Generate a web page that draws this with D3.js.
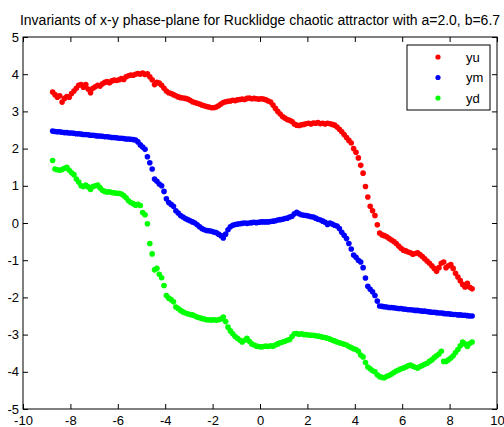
<!DOCTYPE html>
<html lang="en">
<head>
  <meta charset="utf-8">
  <title>Rucklidge invariants</title>
  <script src="https://d3js.org/d3.v7.min.js"></script>
  <style>
    body { margin: 0; background: #fff; }
    text { font-family: "Liberation Sans", Arial, sans-serif; fill: #000; }
    .axis path, .axis line { stroke: #000; }
  </style>
</head>
<body>
<script>
// shared x samples
const xs = [
  -8.75,-8.65,-8.55,-8.45,-8.35,-8.25,-8.15,-8.05,-7.95,-7.85,
  -7.75,-7.65,-7.55,-7.45,-7.35,-7.25,-7.15,-7.05,-6.95,-6.85,
  -6.75,-6.65,-6.55,-6.45,-6.35,-6.25,-6.15,-6.05,-5.95,-5.85,
  -5.75,-5.65,-5.55,-5.45,-5.35,-5.25,-5.15,-5.05,-4.95,-4.85,
  -4.75,-4.65,-4.55,-4.45,-4.35,-4.25,-4.15,-4.05,-3.95,-3.85,
  -3.75,-3.65,-3.55,-3.45,-3.35,-3.25,-3.15,-3.05,-2.95,-2.85,
  -2.75,-2.65,-2.55,-2.45,-2.35,-2.25,-2.15,-2.05,-1.95,-1.85,
  -1.75,-1.65,-1.55,-1.45,-1.35,-1.25,-1.15,-1.05,-0.95,-0.85,
  -0.75,-0.65,-0.55,-0.45,-0.35,-0.25,-0.15,-0.05,0.05,0.15,
  0.25,0.35,0.45,0.55,0.65,0.75,0.85,0.95,1.05,1.15,
  1.25,1.35,1.45,1.55,1.65,1.75,1.85,1.95,2.05,2.15,
  2.25,2.35,2.45,2.55,2.65,2.75,2.85,2.95,3.05,3.15,
  3.25,3.35,3.45,3.55,3.65,3.75,3.85,3.95,4.05,4.15,
  4.25,4.35,4.45,4.55,4.65,4.75,4.85,4.95,5.05,5.15,
  5.25,5.35,5.45,5.55,5.65,5.75,5.85,5.95,6.05,6.15,
  6.25,6.35,6.45,6.55,6.65,6.75,6.85,6.95,7.05,7.15,
  7.25,7.35,7.45,7.55,7.65,7.75,7.85,7.95,8.05,8.15,
  8.25,8.35,8.45,8.55,8.65,8.75,8.85,8.95
];

const yu = [
  3.52,3.45,3.38,3.42,3.25,3.35,3.4,3.38,3.48,3.55,
  3.62,3.7,3.72,3.65,3.72,3.6,3.5,3.62,3.66,3.7,
  3.68,3.74,3.78,3.8,3.77,3.82,3.84,3.83,3.85,3.88,
  3.86,3.93,3.96,3.98,3.97,4.0,4.02,4.0,4.03,3.99,
  4.01,3.93,3.85,3.72,3.78,3.76,3.7,3.62,3.55,3.5,
  3.48,3.45,3.42,3.39,3.37,3.36,3.35,3.33,3.3,3.26,
  3.24,3.22,3.2,3.17,3.15,3.13,3.12,3.1,3.1,3.12,
  3.15,3.2,3.24,3.26,3.27,3.28,3.3,3.29,3.31,3.32,
  3.33,3.32,3.35,3.36,3.34,3.35,3.34,3.33,3.34,3.33,
  3.31,3.28,3.25,3.17,3.08,3.0,2.93,2.86,2.82,2.78,
  2.76,2.73,2.66,2.63,2.62,2.64,2.65,2.67,2.68,2.66,
  2.69,2.68,2.7,2.67,2.68,2.66,2.68,2.67,2.65,2.63,
  2.58,2.52,2.45,2.38,2.3,2.22,2.15,2.0,1.9,1.75,
  1.55,1.34,0.98,0.7,0.45,0.33,0.2,-0.05,-0.27,-0.32,
  -0.34,-0.37,-0.42,-0.46,-0.5,-0.55,-0.62,-0.68,-0.73,-0.75,
  -0.78,-0.8,-0.84,-0.82,-0.8,-0.85,-0.9,-0.96,-1.02,-1.08,
  -1.15,-1.22,-1.3,-1.2,-1.08,-1.05,-1.2,-1.15,-1.12,-1.22,
  -1.35,-1.45,-1.55,-1.65,-1.72,-1.62,-1.73,-1.77
];

const ym = [
  2.47,2.46,2.45,2.45,2.44,2.43,2.43,2.42,2.42,2.41,
  2.40,2.40,2.39,2.38,2.38,2.37,2.36,2.36,2.35,2.34,
  2.34,2.33,2.32,2.32,2.31,2.30,2.30,2.29,2.28,2.28,
  2.27,2.26,2.26,2.25,2.24,2.23,2.18,2.1,2.04,1.98,
  1.78,1.62,1.45,1.18,1.12,1.05,1.0,0.85,0.65,0.55,
  0.5,0.45,0.33,0.27,0.2,0.16,0.12,0.09,0.06,0.03,
  0.0,-0.05,-0.1,-0.15,-0.18,-0.2,-0.21,-0.22,-0.24,-0.26,
  -0.3,-0.34,-0.4,-0.3,-0.18,-0.1,-0.06,-0.04,-0.03,-0.02,
  -0.01,0.0,-0.01,0.0,0.01,0.02,0.01,0.02,0.03,0.03,
  0.03,0.03,0.04,0.05,0.06,0.08,0.09,0.1,0.12,0.13,
  0.16,0.18,0.25,0.29,0.25,0.22,0.21,0.2,0.19,0.17,
  0.16,0.13,0.1,0.08,0.05,0.02,-0.04,0.0,-0.03,-0.06,
  -0.08,-0.15,-0.25,-0.33,-0.42,-0.55,-0.7,-0.86,-0.92,-1.0,
  -1.05,-1.2,-1.48,-1.7,-1.78,-1.85,-1.95,-2.1,-2.23,-2.24,
  -2.25,-2.26,-2.27,-2.27,-2.28,-2.29,-2.30,-2.30,-2.31,-2.32,
  -2.33,-2.33,-2.34,-2.35,-2.35,-2.36,-2.37,-2.37,-2.38,-2.39,
  -2.40,-2.40,-2.41,-2.42,-2.42,-2.43,-2.44,-2.44,-2.45,-2.46,
  -2.46,-2.47,-2.47,-2.48,-2.48,-2.49,-2.50,-2.50
];

const yd = [
  1.68,1.45,1.43,1.42,1.44,1.47,1.5,1.42,1.35,1.3,
  1.18,1.1,1.0,0.98,1.02,0.97,0.9,0.98,1.0,1.02,
  0.95,0.88,0.85,0.83,0.84,0.82,0.81,0.8,0.8,0.78,
  0.74,0.68,0.6,0.55,0.52,0.48,0.5,0.47,0.28,0.22,
  -0.02,-0.55,-0.83,-1.26,-1.22,-1.38,-1.47,-1.68,-1.95,-2.02,
  -2.06,-2.12,-2.26,-2.3,-2.35,-2.39,-2.42,-2.44,-2.46,-2.47,
  -2.5,-2.53,-2.55,-2.57,-2.58,-2.6,-2.6,-2.61,-2.6,-2.61,
  -2.6,-2.58,-2.53,-2.65,-2.8,-2.9,-2.98,-3.05,-3.1,-3.15,
  -3.2,-3.15,-3.1,-3.18,-3.25,-3.28,-3.31,-3.32,-3.33,-3.32,
  -3.31,-3.32,-3.3,-3.31,-3.28,-3.25,-3.22,-3.2,-3.18,-3.15,
  -3.13,-3.05,-2.98,-2.97,-2.99,-2.98,-3.0,-3.0,-3.01,-3.02,
  -3.02,-3.03,-3.04,-3.05,-3.07,-3.08,-3.1,-3.12,-3.15,-3.17,
  -3.2,-3.22,-3.24,-3.26,-3.28,-3.32,-3.35,-3.38,-3.4,-3.45,
  -3.55,-3.6,-3.75,-3.87,-3.92,-3.97,-4.0,-4.08,-4.13,-4.15,
  -4.16,-4.12,-4.1,-4.06,-4.02,-3.98,-3.95,-3.92,-3.9,-3.87,
  -3.84,-3.82,-3.85,-3.88,-3.9,-3.86,-3.83,-3.8,-3.77,-3.72,
  -3.68,-3.62,-3.57,-3.52,-3.45,-3.72,-3.72,-3.68,-3.63,-3.57,
  -3.48,-3.4,-3.3,-3.2,-3.25,-3.32,-3.24,-3.2
];

const seriesNames = ["yu", "ym", "yd"];
const seriesColors = ["#ff0000", "#0000ff", "#00ff00"];
const xTicks = [-10, -8, -6, -4, -2, 0, 2, 4, 6, 8, 10];
const yTicks = [-5, -4, -3, -2, -1, 0, 1, 2, 3, 4, 5];
const titleText = "Invariants of x-y phase-plane for Rucklidge chaotic attractor with a=2.0, b=6.7";

const W = 504, H = 427;
const margin = { top: 37, right: 7, bottom: 18, left: 23 };

const svg = d3.select("body").append("svg")
  .attr("width", W)
  .attr("height", H);

const x = d3.scaleLinear().domain([-10, 10]).range([margin.left, W - margin.right]);
const y = d3.scaleLinear().domain([-5, 5]).range([H - margin.bottom, margin.top]);

// axes, matlab style: ticks inward on all four sides
const fmt = d => String(d);
svg.append("g").attr("class", "axis")
  .attr("transform", `translate(0,${H - margin.bottom})`)
  .call(d3.axisBottom(x).tickValues(xTicks).tickFormat(fmt).tickSizeInner(-5).tickSizeOuter(0).tickPadding(7))
  .call(g => g.selectAll("text").style("font-size", "13px"));
svg.append("g").attr("class", "axis")
  .attr("transform", `translate(${margin.left},0)`)
  .call(d3.axisLeft(y).tickValues(yTicks).tickFormat(fmt).tickSizeInner(-5).tickSizeOuter(0).tickPadding(4))
  .call(g => g.selectAll("text").style("font-size", "13px"));
svg.append("g").attr("class", "axis")
  .attr("transform", `translate(0,${margin.top})`)
  .call(d3.axisTop(x).tickValues(xTicks).tickFormat("").tickSizeInner(-5).tickSizeOuter(0));
svg.append("g").attr("class", "axis")
  .attr("transform", `translate(${W - margin.right},0)`)
  .call(d3.axisRight(y).tickValues(yTicks).tickFormat("").tickSizeInner(-5).tickSizeOuter(0));
svg.selectAll(".axis .domain").remove();

svg.append("rect")
  .attr("x", x(-10)).attr("y", y(5))
  .attr("width", x(10) - x(-10)).attr("height", y(-5) - y(5))
  .attr("fill", "none").attr("stroke", "#000");

// the three point sets
[yu, ym, yd].forEach((ys, i) => {
  svg.append("g").selectAll("circle")
    .data(xs.map((xv, j) => [xv, ys[j]]))
    .enter().append("circle")
    .attr("cx", d => x(d[0]))
    .attr("cy", d => y(d[1]))
    .attr("r", 2.8)
    .attr("fill", seriesColors[i]);
});

svg.append("text")
  .attr("x", (x(-10) + x(10)) / 2)
  .attr("y", 25)
  .attr("text-anchor", "middle")
  .style("font-size", "14px")
  .text(titleText);

// legend
const lg = svg.append("g").attr("transform", "translate(407,45)");
lg.append("rect")
  .attr("width", 83).attr("height", 65)
  .attr("fill", "#fff").attr("stroke", "#000");
seriesNames.forEach((name, i) => {
  lg.append("circle")
    .attr("cx", 31).attr("cy", 12 + i * 20.5)
    .attr("r", 2.6).attr("fill", seriesColors[i]);
  lg.append("text")
    .attr("x", 59).attr("y", 12 + i * 20.5)
    .attr("dy", "0.35em")
    .style("font-size", "13px")
    .text(name);
});
</script>
</body>
</html>
